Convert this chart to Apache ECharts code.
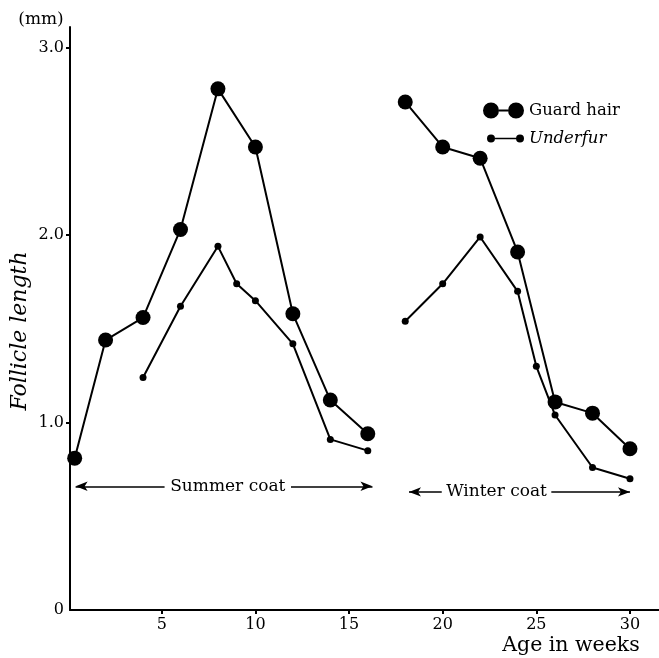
<!DOCTYPE html>
<html>
<head>
<meta charset="utf-8">
<script src="https://cdn.jsdelivr.net/npm/echarts@6/dist/echarts.min.js"></script>
<style>html,body{margin:0;padding:0;background:#fff}#c{width:659px;height:658px}</style>
</head>
<body>
<div id="c"></div>
<script>
// Guard hair: summer coat and winter coat segments
const guardWeeks1 = [0.35, 2, 4, 6, 8, 10, 12, 14, 16];
const guardLen1   = [0.81, 1.44, 1.56, 2.03, 2.78, 2.47, 1.58, 1.12, 0.94];
const guardWeeks2 = [18, 20, 22, 24, 26, 28, 30];
const guardLen2   = [2.71, 2.47, 2.41, 1.91, 1.11, 1.05, 0.86];
// Underfur
const underWeeks1 = [4, 6, 8, 9, 10, 12, 14, 16];
const underLen1   = [1.24, 1.62, 1.94, 1.74, 1.65, 1.42, 0.91, 0.85];
const underWeeks2 = [18, 20, 22, 24, 25, 26, 28, 30];
const underLen2   = [1.54, 1.74, 1.99, 1.70, 1.30, 1.04, 0.76, 0.70];
// Axis ticks
const xTicks = [5, 10, 15, 20, 25, 30];
const yTicks = [0, 1, 2, 3];
// Coat period arrows: label, start week, label-gap start, label-gap end, end week, level
const coatNames  = ['Summer coat', 'Winter coat'];
const coatStart  = [0.4, 18.2];
const coatGapA   = [5.15, 19.95];
const coatGapB   = [11.9, 25.8];
const coatEnd    = [16.25, 30.0];
const coatLevel  = [0.66, 0.63];

function seg(w1, v1, w2, v2) {
  const d = w1.map((w, i) => [w, v1[i]]);
  d.push([(w1[w1.length - 1] + w2[0]) / 2, '-']);
  return d.concat(w2.map((w, i) => [w, v2[i]]));
}

const serif = '"DejaVu Serif", "Liberation Serif", serif';
const arrowLabel = {
  show: true, position: 'middle', verticalAlign: 'middle', distance: [0, 0],
  color: '#000', fontFamily: serif, fontSize: 17
};
const coatLines = [];
coatNames.forEach((nm, i) => {
  const y = coatLevel[i];
  coatLines.push([{ coord: [coatStart[i], y], symbol: 'arrow', label: { show: false } },
                  { coord: [coatGapA[i], y], symbol: 'none' }]);
  coatLines.push([{ coord: [coatGapA[i], y], symbol: 'none', lineStyle: { color: 'rgba(0,0,0,0)', width: 0 },
                    label: Object.assign({}, arrowLabel, { formatter: nm }) },
                  { coord: [coatGapB[i], y], symbol: 'none' }]);
  coatLines.push([{ coord: [coatGapB[i], y], symbol: 'none', label: { show: false } },
                  { coord: [coatEnd[i], y], symbol: 'arrow' }]);
});

const chart = echarts.init(document.getElementById('c'));
chart.setOption({
  animation: false,
  backgroundColor: '#fff',
  grid: { left: 70, right: 0, top: 27, bottom: 48 },
  xAxis: {
    type: 'value', min: 0.1, max: 31.55,
    axisLine: { show: true, lineStyle: { color: '#000', width: 2 } },
    axisTick: { show: true, customValues: xTicks, length: 4, lineStyle: { color: '#000', width: 2 } },
    axisLabel: { customValues: xTicks, color: '#000', fontFamily: serif, fontSize: 16, margin: 7 },
    splitLine: { show: false }
  },
  yAxis: {
    type: 'value', min: 0, max: 3.11,
    axisLine: { show: true, lineStyle: { color: '#000', width: 2 } },
    axisTick: { show: true, customValues: [1, 2, 3], length: 4, lineStyle: { color: '#000', width: 2 } },
    axisLabel: { customValues: yTicks, color: '#000', fontFamily: serif, fontSize: 16, margin: 6,
      formatter: v => v === 0 ? '0' : v.toFixed(1) },
    splitLine: { show: false }
  },
  legend: [
    { data: [{ name: 'Guard hair', icon: 'path://M0,8A8,8,0,1,1,16,8A8,8,0,1,1,0,8Z M25,8A8,8,0,1,1,41,8A8,8,0,1,1,25,8Z M16,7L25,7L25,9L16,9Z' }],
      left: 478, top: 97, itemWidth: 41, itemHeight: 16, selectedMode: false,
      itemStyle: { color: '#000', borderWidth: 0 },
      textStyle: { color: '#000', fontFamily: serif, fontSize: 16.5 } },
    { data: [{ name: 'Underfur', icon: 'path://M0,4A4,4,0,1,1,8,4A4,4,0,1,1,0,4Z M29,4A4,4,0,1,1,37,4A4,4,0,1,1,29,4Z M8,3.2L29,3.2L29,4.8L8,4.8Z' }],
      left: 482, top: 125, itemWidth: 37, itemHeight: 8, selectedMode: false,
      itemStyle: { color: '#000', borderWidth: 0 },
      textStyle: { color: '#000', fontFamily: serif, fontSize: 16.5, fontStyle: 'italic' } }
  ],
  series: [
    { name: 'Guard hair', type: 'line', data: seg(guardWeeks1, guardLen1, guardWeeks2, guardLen2),
      symbol: 'circle', symbolSize: 15, connectNulls: false,
      lineStyle: { color: '#000', width: 2 }, itemStyle: { color: '#000' },
      markLine: {
        silent: true, symbolSize: [7, 12],
        lineStyle: { color: '#000', width: 1.5, type: 'solid' },
        label: { show: false },
        data: coatLines
      } },
    { name: 'Underfur', type: 'line', data: seg(underWeeks1, underLen1, underWeeks2, underLen2),
      symbol: 'circle', symbolSize: 7, connectNulls: false,
      lineStyle: { color: '#000', width: 2 }, itemStyle: { color: '#000' } }
  ],
  graphic: [
    { type: 'text', x: 41, y: 20, style: { text: '(mm)', fill: '#000', font: '17px ' + serif, textAlign: 'center', textVerticalAlign: 'middle' } },
    { type: 'text', x: 20, y: 331, rotation: Math.PI / 2, style: { text: 'Follicle length', fill: '#000', font: 'italic 22px ' + serif, textAlign: 'center', textVerticalAlign: 'middle' } },
    { type: 'text', x: 571, y: 646, style: { text: 'Age in weeks', fill: '#000', font: '20.5px ' + serif, textAlign: 'center', textVerticalAlign: 'middle' } }
  ]
});
</script>
</body>
</html>
